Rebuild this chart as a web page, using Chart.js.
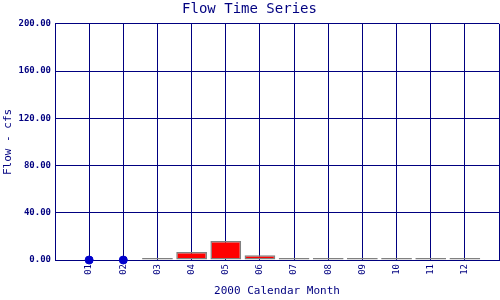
<!DOCTYPE html>
<html>
<head>
<meta charset="utf-8">
<script src="https://cdn.jsdelivr.net/npm/chart.js@4"></script>
<style>
  html, body { margin: 0; padding: 0; background: #fff; }
  #wrap { width: 500px; height: 300px; }
</style>
</head>
<body>
<div id="wrap"><canvas id="chart"></canvas></div>
<script>
// month labels, blank slots at both ends for the outer grid lines
const months = ['', '01', '02', '03', '04', '05', '06', '07', '08', '09', '10', '11', '12', '']
// monthly flow (cfs)
const flow = [null, null, null, 0.4, 6.8, 16.0, 4.0, 0.4, 0.1, 0.1, 0.5, 0.1, 0.1, null]
// months with zero flow, shown as dots
const zeroFlow = [null, 0, 0, null, null, null, null, null, null, null, null, null, null, null]
const yTicks = [0, 40, 80, 120, 160, 200]

const navy = '#000080'
const mono = 'DejaVu Sans Mono'

// near-zero bars show only as a gray line, the rest are red
const fills = flow.map(v => (v !== null && v < 1 ? '#808080' : '#ff0000'))

const ctx = document.querySelector('#chart').getContext('2d')
const myChart = new Chart(ctx, {
  data: {
    labels: months,
    datasets: [{
      type: 'bar',
      data: flow,
      backgroundColor: fills,
      borderColor: '#808080',
      borderWidth: 1.5,
      borderSkipped: false,
      barPercentage: 1,
      categoryPercentage: 0.9,
      minBarLength: 2
    }, {
      type: 'line',
      data: zeroFlow,
      showLine: false,
      pointRadius: 4,
      pointBackgroundColor: '#0000cc',
      pointBorderColor: '#0000cc',
      clip: false
    }]
  },
  options: {
    responsive: true,
    maintainAspectRatio: false,
    animation: false,
    // no extra room for the dots, the plot runs to the right edge
    layout: { autoPadding: false, padding: { left: 0, right: 1, top: 0, bottom: 0 } },
    plugins: {
      legend: { display: false },
      tooltip: { enabled: false },
      title: {
        display: true,
        text: 'Flow Time Series',
        color: navy,
        font: { family: mono, size: 14, weight: 'normal' },
        padding: { top: 1, bottom: 6 }
      }
    },
    scales: {
      x: {
        offset: false,
        grid: { color: navy, lineWidth: 1, drawTicks: false, offset: false },
        border: { color: navy, width: 1 },
        ticks: {
          color: navy,
          font: { family: mono, size: 9 },
          minRotation: 90,
          maxRotation: 90,
          autoSkip: false,
          padding: 4
        },
        title: {
          display: true,
          text: '2000 Calendar Month',
          color: navy,
          font: { family: mono, size: 11 },
          padding: { top: 7, bottom: 2 }
        },
        afterFit: axis => {
          axis.height = 40
          axis.paddingLeft = 0
          axis.paddingRight = 0
        }
      },
      y: {
        min: 0,
        max: 200,
        afterBuildTicks: axis => { axis.ticks = yTicks.map(v => ({ value: v })) },
        grid: { color: navy, lineWidth: 1, drawTicks: false },
        border: { color: navy, width: 1 },
        ticks: {
          color: navy,
          font: { family: mono, size: 9, weight: 'bold' },
          padding: 4,
          callback: v => v.toFixed(2)
        },
        title: {
          display: true,
          text: 'Flow - cfs',
          color: navy,
          font: { family: mono, size: 11 },
          padding: { top: 2, bottom: 4 }
        },
        afterFit: axis => { axis.width = 55 }
      }
    }
  }
})
</script>
</body>
</html>
